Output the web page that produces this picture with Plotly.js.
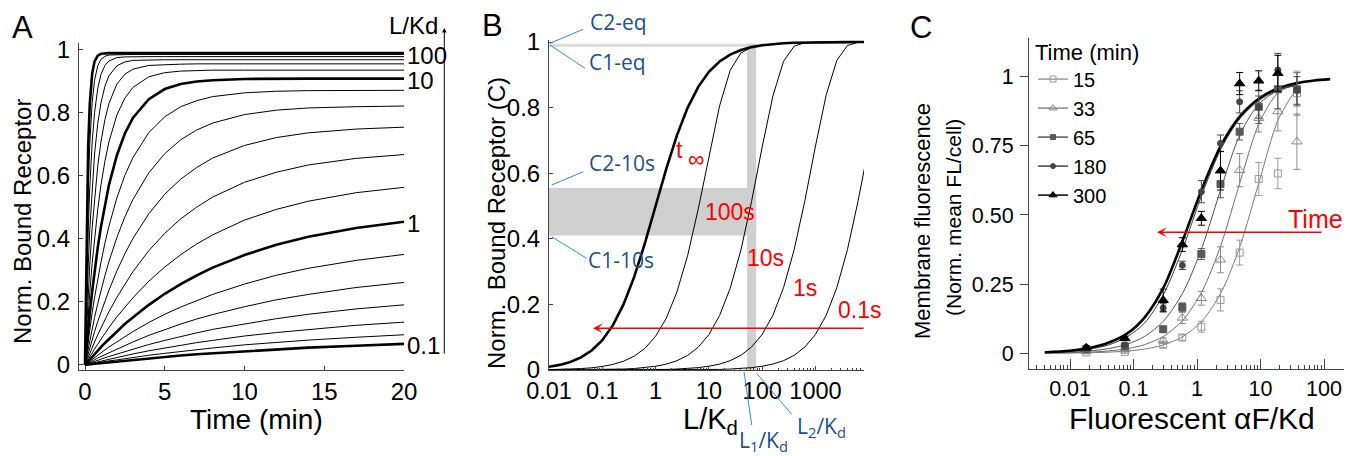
<!DOCTYPE html>
<html><head><meta charset="utf-8">
<script src="https://cdn.plot.ly/plotly-3.0.1.min.js"></script>
<style>html,body{margin:0;padding:0;background:#fff}#plot{width:1347px;height:456px}</style>
</head><body><div id="plot"></div>
<script>
// ---------- Panel A: bound receptor vs time, one curve per L/Kd ----------
const tA = [0, 0.1, 0.2, 0.3, 0.45, 0.6, 0.8, 1, 1.25, 1.5, 2, 2.5, 3, 4, 5, 6, 7, 8, 10, 12, 14, 17, 20];
const curvesA = [
 [0,.001,.001,.002,.003,.004,.005,.006,.007,.009,.011,.014,.016,.021,.026,.030,.034,.037,.044,.050,.055,.061,.067],
 [0,.001,.002,.003,.004,.005,.007,.009,.011,.013,.016,.020,.024,.031,.037,.043,.049,.054,.064,.072,.079,.088,.096],
 [0,.001,.003,.004,.006,.008,.010,.012,.015,.018,.024,.030,.035,.045,.054,.063,.071,.078,.092,.103,.113,.126,.136],
 [0,.002,.004,.006,.008,.011,.015,.018,.023,.027,.035,.043,.051,.065,.078,.091,.102,.113,.131,.147,.161,.178,.191],
 [0,.003,.006,.008,.012,.016,.022,.027,.033,.039,.051,.063,.073,.094,.113,.130,.146,.160,.185,.207,.224,.246,.262],
 [0,.004,.008,.012,.018,.024,.031,.039,.048,.057,.074,.090,.106,.135,.161,.184,.205,.224,.257,.285,.307,.332,.351],
 [0,.006,.012,.018,.026,.035,.046,.057,.070,.082,.107,.130,.151,.191,.226,.257,.284,.309,.349,.382,.407,.435,.455],
 [0,.009,.017,.026,.038,.051,.066,.082,.101,.119,.153,.184,.213,.266,.311,.350,.384,.413,.460,.494,.520,.547,.564],
 [0,.013,.025,.038,.056,.073,.096,.118,.144,.169,.215,.257,.296,.363,.418,.464,.501,.533,.580,.612,.635,.656,.668],
 [0,.019,.037,.055,.081,.106,.138,.168,.204,.237,.299,.353,.401,.480,.542,.590,.627,.657,.697,.722,.737,.749,.755],
 [0,.027,.054,.079,.116,.151,.195,.236,.284,.328,.405,.470,.525,.610,.671,.715,.746,.768,.795,.809,.816,.820,.822],
 [0,.040,.078,.114,.166,.214,.273,.326,.387,.440,.531,.602,.658,.738,.788,.820,.839,.852,.864,.869,.871,.872,.872],
 [0,.058,.112,.163,.234,.297,.373,.439,.511,.571,.666,.735,.784,.844,.876,.892,.900,.904,.908,.909,.909,.909,.909],
 [0,.084,.161,.230,.323,.404,.495,.571,.647,.708,.794,.847,.881,.915,.928,.933,.935,.936,.936,.936,.936,.936,.936],
 [0,.121,.226,.319,.436,.531,.632,.708,.779,.830,.892,.923,.939,.951,.954,.955,.956,.956,.956,.956,.956,.956,.956],
 [0,.172,.314,.430,.568,.670,.767,.832,.885,.918,.950,.962,.967,.969,.969,.969,.969,.969,.969,.969,.969,.969,.969],
 [0,.242,.425,.562,.707,.801,.878,.922,.951,.965,.976,.978,.979,.979,.979,.979,.979,.979,.979,.979,.979,.979,.979],
 [0,.335,.556,.701,.833,.904,.950,.970,.980,.984,.985,.986,.986,.986,.986,.986,.986,.986,.986,.986,.986,.986,.986],
 [0,.450,.695,.829,.925,.964,.982,.988,.990,.990,.990,.990,.990,.990,.990,.990,.990,.990,.990,.990,.990,.990,.990]
];
const labelA = {0:'0.1', 6:'1', 12:'10', 18:'100'};   // thick curves and their L/Kd labels
const ticksAx = [0, 5, 10, 15, 20];
const ticksAy = [0, 0.2, 0.4, 0.6, 0.8, 1];
const ticksAyText = ['0', '0.2', '0.4', '0.6', '0.8', '1'];

// ---------- Panel B: bound receptor vs L/Kd at several times ----------
const gridB = [0.01,0.01585,0.02512,0.03981,0.0631,0.1,0.1585,0.2512,0.3981,0.631,1,1.585,2.512,3.981,6.31,10,15.85,25.12,39.81,63.1,100,158.5,251.2,398.1,631,1000,1585,2512,3981,6310,10000];
const bInf = [0.0099,0.0156,0.0245,0.0383,0.0594,0.0909,0.1368,0.2008,0.2847,0.3869,0.5,0.6131,0.7153,0.7992,0.8632,0.9091,0.9406,0.9617,0.9755,0.9844,0.9901,0.9937,0.9960,0.9975,0.9984,0.9990,0.9994,0.9996,0.9997,0.9998,0.9999];
const b100s = [0.0011,0.0017,0.0027,0.0043,0.0068,0.0108,0.0171,0.0269,0.0423,0.0662,0.1028,0.1577,0.2377,0.3485,0.4908,0.6526,0.8051,0.9140,0.9665,0.9838,0.9901,0.9937,0.9960,0.9975,0.9984,0.9990,0.9994,0.9996,0.9997,0.9998,0.9999];
const b10s = [0.0001,0.0002,0.0003,0.0005,0.0007,0.0011,0.0018,0.0029,0.0045,0.0072,0.0114,0.0180,0.0283,0.0445,0.0696,0.1080,0.1657,0.2496,0.3654,0.5134,0.6802,0.8349,0.9412,0.9873,0.9977,0.9990,0.9994,0.9996,0.9997,0.9998,0.9999];
const b1s = [0.00001,0.00002,0.00003,0.00005,0.00007,0.00012,0.00018,0.00029,0.00046,0.00073,0.0012,0.0018,0.0029,0.0046,0.0073,0.0114,0.0181,0.0285,0.0447,0.0700,0.1086,0.1666,0.2508,0.3672,0.5158,0.6830,0.8381,0.9440,0.9894,0.9991,0.9999];
const b01s = [0,0,0,0,0.00001,0.00001,0.00002,0.00003,0.00005,0.00007,0.00012,0.00018,0.00029,0.00046,0.00073,0.0011,0.0018,0.0029,0.0046,0.0072,0.0114,0.0181,0.0285,0.0448,0.0700,0.1086,0.1666,0.2509,0.3673,0.5160,0.6833];
const bandL = [52, 77];          // L1/Kd, L2/Kd
const band10s = [0.41, 0.555];   // C1-10s, C2-10s
const bandEq = [0.985, 0.995];   // C1-eq, C2-eq
const ticksBx = [0.01, 0.1, 1, 10, 100, 1000];
const ticksBxText = ['0.01', '0.1', '1', '10', '100', '1000'];

// ---------- Panel C: measured membrane fluorescence ----------
const xC = [0.018, 0.073, 0.293, 0.586, 1.17, 2.34, 4.69, 9.375, 18.75, 37.5];
const y15  = [0.003, 0.005, 0.031, 0.057, 0.096, 0.193, 0.364, 0.630, 0.650, 0.940];
const e15  = [0.005, 0.005, 0.010, 0.010, 0.020, 0.040, 0.045, 0.060, 0.055, 0.080];
const y33  = [0.008, 0.013, 0.046, 0.128, 0.199, 0.338, 0.662, 0.850, 0.874, 0.765];
const e33  = [0.005, 0.006, 0.010, 0.020, 0.025, 0.047, 0.060, 0.050, 0.070, 0.100];
const y65  = [0.015, 0.025, 0.087, 0.167, 0.359, 0.612, 0.801, 0.891, 0.954, 0.954];
const e65  = [0.005, 0.006, 0.010, 0.015, 0.020, 0.050, 0.030, 0.060, 0.070, 0.060];
const y180 = [0.022, 0.030, 0.164, 0.318, 0.584, 0.759, 0.909, 0.890, 1.024, 0.950];
const e180 = [0.006, 0.006, 0.015, 0.015, 0.040, 0.030, 0.040, 0.040, 0.060, 0.050];
const y300 = [0.020, 0.054, 0.192, 0.393, 0.488, 0.660, 0.975, 0.985, 1.012, null];
const e300 = [0.006, 0.008, 0.040, 0.025, 0.025, 0.070, 0.040, 0.036, 0.065, null];
const xFit = [0.004, 0.01, 0.02, 0.04, 0.08, 0.15, 0.3, 0.6, 1.2, 2.4, 4.8, 9.6, 19, 38];
const f15  = [0.0004,0.001,0.0021,0.0042,0.0083,0.0155,0.0307,0.0605,0.117,0.220,0.390,0.623,0.845,0.961];
const f33  = [0.0009,0.0021,0.0043,0.0085,0.0169,0.0315,0.0619,0.1196,0.2238,0.3938,0.6218,0.8345,0.9422,0.9743];
const f65  = [0.0017,0.0042,0.0084,0.0168,0.0332,0.0611,0.1179,0.2195,0.3828,0.5971,0.7935,0.9031,0.950,0.9744];
const f180 = [0.003,0.007,0.015,0.030,0.060,0.110,0.215,0.380,0.575,0.740,0.850,0.915,0.952,0.968];
const xFitBlack = [0.004, 0.01, 0.02, 0.04, 0.08, 0.15, 0.3, 0.6, 1.2, 2.4, 4.8, 9.6, 19, 38, 70, 125];
const f300 = [0.004,0.0095,0.019,0.038,0.072,0.13,0.24,0.41,0.595,0.752,0.858,0.922,0.958,0.977,0.986,0.991];
const timesC = ['15', '33', '65', '180', '300'];
const ticksCx = [0.01, 0.1, 1, 10, 100];
const ticksCxText = ['0.01', '0.1', '1', '10', '100'];
const ticksCy = [0, 0.25, 0.5, 0.75, 1];
const ticksCyText = ['0', '0.25', '0.50', '0.75', '1'];

// ---------- drawing ----------
const W = 1347, H = 456;
const px = v => v / W, py = v => 1 - v / H;
const FONT = 'Liberation Sans, Arial, Helvetica, sans-serif';
const RED = '#ff0000', BLUE = '#1d4f91', LBLUE = '#2f8ae0';
const traces = [];

curvesA.forEach((c, i) => {
  traces.push({x: tA, y: c, xaxis: 'x', yaxis: 'y', mode: 'lines',
    line: {color: '#000', width: (i in labelA) ? 2.6 : 1}, showlegend: false, hoverinfo: 'skip'});
});

const bandStyle = {mode: 'lines', fill: 'toself', line: {width: 0}, xaxis: 'x2', yaxis: 'y2', showlegend: false, hoverinfo: 'skip'};
traces.push(Object.assign({x: [0.01, bandL[1], bandL[1], 0.01], y: [bandEq[0], bandEq[0], bandEq[1], bandEq[1]], fillcolor: '#dddddd'}, bandStyle));
traces.push(Object.assign({x: [0.01, bandL[1], bandL[1], 0.01], y: [band10s[0], band10s[0], band10s[1], band10s[1]], fillcolor: '#cfcfcf'}, bandStyle));
traces.push(Object.assign({x: [bandL[0], bandL[1], bandL[1], bandL[0]], y: [0, 0, bandEq[1], bandEq[1]], fillcolor: '#cfcfcf'}, bandStyle));
[b01s, b1s, b10s, b100s].forEach(c => traces.push({x: gridB, y: c, xaxis: 'x2', yaxis: 'y2', mode: 'lines',
  line: {color: '#000', width: 1}, showlegend: false, hoverinfo: 'skip'}));
traces.push({x: gridB, y: bInf, xaxis: 'x2', yaxis: 'y2', mode: 'lines', line: {color: '#000', width: 2.6}, showlegend: false, hoverinfo: 'skip'});

const seriesC = [
  {y: y15, e: e15, f: f15, fx: xFit, col: '#9a9a9a', lc: '#7a7a7a', sym: 'square-open', size: 7, lsize: 6},
  {y: y33, e: e33, f: f33, fx: xFit, col: '#8a8a8a', lc: '#707070', sym: 'triangle-up-open', size: 9, lsize: 7},
  {y: y65, e: e65, f: f65, fx: xFit, col: '#585858', lc: '#555555', sym: 'square', size: 7, lsize: 5},
  {y: y180, e: e180, f: f180, fx: xFit, col: '#454545', lc: '#3a3a3a', sym: 'circle', size: 6, lsize: 5},
  {y: y300, e: e300, f: f300, fx: xFitBlack, col: '#000000', lc: '#000000', sym: 'triangle-up', size: 9, lsize: 7}
];
seriesC.forEach((s, i) => {
  traces.push({x: s.fx, y: s.f, xaxis: 'x3', yaxis: 'y3', mode: 'lines',
    line: {color: s.lc, width: i === 4 ? 2.6 : 1, shape: 'spline', smoothing: 0.8}, showlegend: false, hoverinfo: 'skip'});
});
seriesC.forEach((s, i) => {
  traces.push({x: xC, y: s.y, xaxis: 'x3', yaxis: 'y3', mode: 'markers',
    marker: {symbol: s.sym, size: s.size, color: s.col, line: {color: s.col, width: 1}},
    error_y: {type: 'data', array: s.e, color: s.col, thickness: 1, width: 3.5},
    showlegend: false, hoverinfo: 'skip'});
});
seriesC.forEach((s, i) => {
  traces.push({x: [null], y: [null], xaxis: 'x3', yaxis: 'y3', mode: 'lines+markers', name: timesC[i],
    line: {color: s.col, width: 1.5}, marker: {symbol: s.sym, size: s.lsize, color: s.col, line: {color: s.col, width: 1}}});
});

// minor ticks for log axes
const minorB = [], minorC = [];
[0.01, 0.1, 1, 10, 100, 1000].forEach(d => { for (let k = 2; k <= 9; k++) minorB.push(k * d); });
[0.001, 0.01, 0.1, 1, 10, 100].forEach(d => { for (let k = 2; k <= 9; k++) minorC.push(k * d); });

const AX = '#444';
const baseAxis = {showline: true, linecolor: AX, linewidth: 1, showgrid: false, zeroline: false,
  tickcolor: AX, tickwidth: 1, tickfont: {size: 24, family: FONT, color: '#000'}, tickmode: 'array'};

const layout = {
  width: W, height: H, margin: {l: 0, r: 0, t: 0, b: 0}, paper_bgcolor: '#fff', plot_bgcolor: 'rgba(0,0,0,0)',
  font: {family: FONT, color: '#000'}, showlegend: true,
  xaxis: Object.assign({}, baseAxis, {domain: [px(79), px(404)], range: [-0.376, 20], anchor: 'y', ticks: 'inside', ticklen: 4,
    tickvals: ticksAx, ticktext: ticksAx.map(String)}),
  yaxis: Object.assign({}, baseAxis, {domain: [py(370), py(43)], range: [-0.0159, 1.0222], anchor: 'x', ticks: 'inside', ticklen: 4,
    tickvals: ticksAy, ticktext: ticksAyText, ticklabelstandoff: 3}),
  xaxis2: Object.assign({}, baseAxis, {type: 'log', domain: [px(549), px(864)], range: [-2, 3.91], anchor: 'y2', ticks: 'inside', ticklen: 4,
    tickvals: ticksBx, ticktext: ticksBxText, tickfont: {size: 23.5, family: FONT, color: '#000'},
    minor: {ticks: 'inside', ticklen: 2.5, tickcolor: AX, tickmode: 'array', tickvals: minorB, showgrid: false}}),
  yaxis2: Object.assign({}, baseAxis, {domain: [py(370), py(40)], range: [0, 1.0061], anchor: 'x2', ticks: 'inside', ticklen: 4,
    tickvals: ticksAy, ticktext: ticksAyText, ticklabelstandoff: 3}),
  xaxis3: Object.assign({}, baseAxis, {type: 'log', domain: [px(1029), px(1344)], range: [-2.647, 2.315], anchor: 'y3', ticks: 'inside', ticklen: 10,
    tickvals: ticksCx, ticktext: ticksCxText, tickfont: {size: 21.5, family: FONT, color: '#000'},
    minor: {ticks: 'inside', ticklen: 4.5, tickcolor: AX, tickmode: 'array', tickvals: minorC, showgrid: false}}),
  yaxis3: Object.assign({}, baseAxis, {domain: [py(369), py(38)], range: [-0.0567, 1.1396], anchor: 'x3', ticks: 'outside', ticklen: 8,
    tickvals: ticksCy, ticktext: ticksCyText, ticklabelstandoff: 2, tickfont: {size: 21.5, family: FONT, color: '#000'}}),
  legend: {x: px(1033), xanchor: 'left', y: py(31), yanchor: 'top', bgcolor: 'rgba(0,0,0,0)', borderwidth: 0,
    font: {size: 20, family: FONT, color: '#000'}, title: {text: 'Time (min)', font: {size: 22, family: FONT}},
    itemwidth: 30, tracegroupgap: 0, traceorder: 'normal'},
  annotations: [], shapes: []
};

function txt(text, x, y, o) {
  layout.annotations.push(Object.assign({text: text, xref: 'paper', yref: 'paper', x: px(x), y: py(y), showarrow: false,
    xanchor: 'center', yanchor: 'middle', font: {size: 21, family: FONT, color: '#000'}}, o || {}));
}
function arrow(x, y, ax, ay, color, width, head, size) {
  layout.annotations.push({text: '', xref: 'paper', yref: 'paper', x: px(x), y: py(y), ax: ax, ay: ay, axref: 'pixel', ayref: 'pixel',
    showarrow: true, arrowcolor: color, arrowwidth: width, arrowhead: head, arrowsize: size, standoff: 0, startstandoff: 0});
}
function seg(x0, y0, x1, y1) {
  layout.shapes.push({type: 'line', xref: 'paper', yref: 'paper', x0: px(x0), y0: py(y0), x1: px(x1), y1: py(y1),
    line: {color: LBLUE, width: 1}});
}

// panel letters
txt('A', 22, 27, {font: {size: 31, family: FONT}});
txt('B', 492, 26, {font: {size: 31, family: FONT}});
txt('C', 921, 27, {font: {size: 31, family: FONT}});

// Panel A texts
txt('Time (min)', 256, 419, {font: {size: 28, family: FONT}});
txt('Norm. Bound Receptor', 22, 222, {textangle: -90, font: {size: 24, family: FONT}});
txt('L/Kd', 413, 26, {font: {size: 24, family: FONT}});
Object.keys(labelA).forEach(i => {
  const c = curvesA[i];
  layout.annotations.push({text: labelA[i], xref: 'x', yref: 'y', x: tA[tA.length - 1], y: c[c.length - 1], xanchor: 'left', yanchor: 'middle',
    xshift: 1, yshift: -2, showarrow: false, font: {size: 24, family: FONT, color: '#000'}});
});
arrow(444.3, 28, 0, 327, '#000', 1, 2, 0.9);

// Panel B texts
txt('L/K<sub>d</sub>', 710, 421, {font: {size: 29, family: FONT}});
txt('Norm.\u00a0\u00a0Bound Receptor (C)', 496, 223, {textangle: -90, font: {size: 24, family: FONT}});
txt('t', 679, 150, {font: {size: 23, family: FONT, color: RED}});
txt('\u221e', 696, 159, {font: {size: 23, family: FONT, color: RED}});
txt('100s', 730, 212, {font: {size: 23, family: FONT, color: RED}});
txt('10s', 765, 258, {font: {size: 23, family: FONT, color: RED}});
txt('1s', 805, 288, {font: {size: 23, family: FONT, color: RED}});
txt('0.1s', 859, 310, {font: {size: 23, family: FONT, color: RED}});
arrow(593, 328.3, 272, 0, RED, 1.5, 3, 1.1);
const BF = 'Open Sans, Liberation Sans, sans-serif';
txt('C2-eq', 618, 22, {font: {size: 21, family: BF, color: BLUE}});
txt('C1-eq', 617, 62, {font: {size: 21, family: BF, color: BLUE}});
txt('C2-10s', 622, 163, {font: {size: 21, family: BF, color: BLUE}});
txt('C1-10s', 621, 260, {font: {size: 21, family: BF, color: BLUE}});
txt('L<sub>1</sub>/K<sub>d</sub>', 763, 441, {font: {size: 21, family: BF, color: BLUE}});
txt('L<sub>2</sub>/K<sub>d</sub>', 821, 427, {font: {size: 21, family: BF, color: BLUE}});
seg(550, 43.3, 583, 29.3);
seg(550, 45, 585, 68.3);
seg(551.7, 185, 583.3, 171.7);
seg(551.7, 236.7, 586.7, 258.3);
seg(744, 371.7, 751.7, 425);
seg(756.7, 373.3, 791.7, 414.3);

// Panel C texts
txt('Fluorescent \u03b1F/Kd', 1192, 418, {font: {size: 30, family: FONT}});
txt('Membrane fluorescence', 922, 221, {textangle: -90, font: {size: 22, family: FONT}});
txt('(Norm. mean FL/cell)', 953, 218, {textangle: -90, font: {size: 21, family: FONT}});
txt('Time', 1315, 219, {font: {size: 25, family: FONT, color: RED}});
arrow(1157, 232.3, 166, 0, RED, 1.5, 3, 1.1);

Plotly.newPlot('plot', traces, layout, {staticPlot: true});
</script>
</body></html>
